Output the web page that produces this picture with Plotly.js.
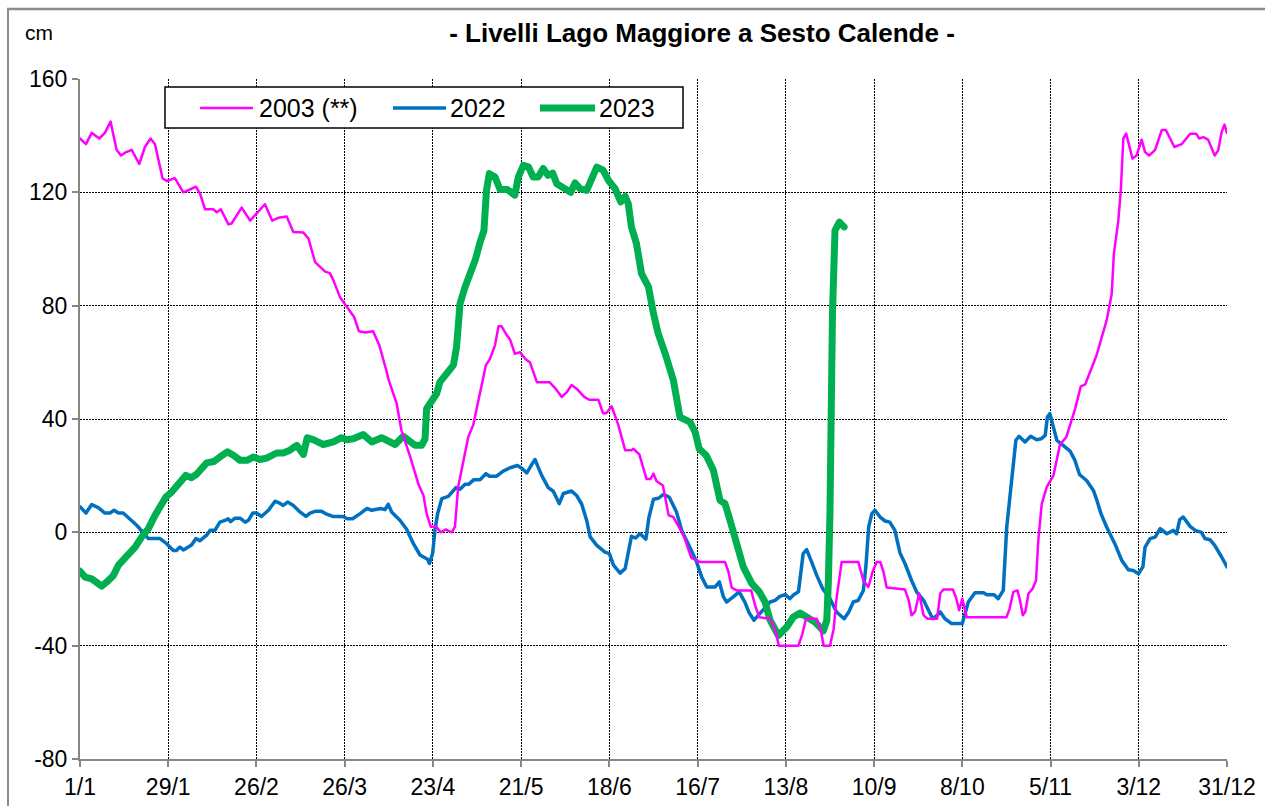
<!DOCTYPE html>
<html>
<head>
<meta charset="utf-8">
<script src="https://cdn.plot.ly/plotly-3.0.1.min.js"></script>
<style>
html,body{margin:0;padding:0;background:#fff;}
#chart{width:1265px;height:806px;}
.scatterlayer path.js-line{stroke-linejoin:round;stroke-linecap:round;}
</style>
</head>
<body>
<div id="chart"></div>
<script>
// ---- x axis tick positions (day of year, 1/1 = 0) and labels ----
const tickDays = [0, 28, 56, 84, 112, 140, 168, 196, 224, 252, 280, 308, 336, 364];
const tickLabels = ["1/1", "29/1", "26/2", "26/3", "23/4", "21/5", "18/6", "16/7", "13/8", "10/9", "8/10", "5/11", "3/12", "31/12"];
const yTicks = [-80, -40, 0, 40, 80, 120, 160];

// ---- 2003 (**) ----
const days2003 = [0,1.9,3.7,6.1,7.9,9.7,11.6,13,14.3,16.4,18.8,20.6,22.4,23.8,26.2,27.5,30.1,32.8,34.9,36.8,38.1,39.7,42.3,43.4,44.7,47.1,48.1,51.3,54,56,58.7,61,62.9,65.6,67.7,70.9,72.5,74.6,77.8,79.3,80.4,82.5,84.5,87,88.5,90.5,93,95,97,98,100.5,102,104.7,107.4,109,110,111.3,113,114.5,116,118,119,120,121.7,123.2,124.8,127,128.8,130,131.7,132.8,133.8,135.2,136.5,138,139.6,141.5,142.8,145,149,150.7,152.9,154.5,156,157.6,160,161.6,164.5,166,167,168.7,170.8,173,175,175.6,177.5,179.8,181,182,183,185,186.8,188.3,191.5,194,196.8,204.7,205.8,206.8,208.4,213,214.3,215.6,219,220.5,221.8,228,229.2,230.4,233.8,235,236,238,239.2,240,241.7,247,248.6,250.2,251.5,252.8,254,255,256,261.8,263,263.9,265,266.3,267.7,269,272,273,274,277,278,279,280,281.4,294,295,296.2,297.5,298.3,299.2,300,301,302.3,303.4,304.1,305.2,306.8,308.9,310,311,313,315.8,317.6,319,322.6,325.8,327.4,328.1,329.5,330.3,331.1,332,334,335.3,336.9,338,339.3,341.2,343.3,344.6,347.3,348.5,349.6,352.3,354.2,355.2,356.5,358,360.1,361.2,362.3,363.2,364];
const lev2003 = [139,137,141,139,141,145,135,133,134,135,130,136,139,137,125,124,125,120,121,122,119.5,114,114,113,114,108.7,109,114.6,110,112.5,115.8,110,111,111.5,106,105.8,103.7,95.4,92,91.5,89,83,80,76,71,70.5,71,66,58,53.6,45.4,36,27,17,13,6.6,2,2,0,1,0,2,16,25,33.6,38,49,59,61,66,72.7,72.7,70,68,63,63.6,61,60,53,53,51,47.8,49.5,52,50.7,47.8,46.8,46.8,42,42,44.5,38,29,29,29.5,27.5,18.8,18.8,20.7,18,16.5,6,5.4,-1,-9,-10.5,-10.5,-14,-19.5,-20.5,-20.5,-26,-30,-30.5,-34,-40,-40,-36,-30.5,-30.5,-34,-40,-40,-34,-24,-10.5,-10.5,-17,-19.3,-14,-10.5,-10.5,-14,-19.5,-20.2,-24,-29.3,-28,-21.6,-29.3,-30.5,-30.5,-21.6,-20.2,-20.2,-23,-27.5,-23.4,-30,-30,-27,-21,-20.5,-24,-29.3,-28,-21.6,-19.9,-17,-3,10,16,20,25.4,31,33.6,43.6,51.5,52.2,62.5,74.8,84,98.3,110,120.7,139,140.7,131.9,133,138.6,134.2,133,135,142,142,136,136.5,137,140.7,140.7,139,139.5,138.6,133,134.8,141.3,143.9,141];

// ---- 2022 ----
const days2022 = [0,1.9,3.7,5.8,7.9,9.5,10.8,12.2,13.7,18,21.7,25.4,27.5,29.6,30.6,31.7,32.8,34.4,35.4,36.8,38,40.2,41.3,42.8,44.4,46,47,47.8,49.2,50.8,52.4,53.5,54.8,56,57.6,59.8,61.9,63.5,64.5,65.9,67.7,69.8,71.7,73,74.6,76.7,78.3,80.2,83.5,84.8,86.5,88.9,91,92.6,95.4,96.8,97.8,98.9,101.6,103.7,105.8,107.9,109.5,110.3,110.9,111.9,112.7,113.5,114.8,116.9,119.3,120.6,122.2,123.4,125,127,128.8,130,132.2,134.3,136.5,138.8,140.3,141.8,143.4,144.4,145.4,146.5,148.6,150.2,152.1,153.4,156,157.6,159.2,160.8,161.9,164,166.6,168,169.3,171.4,173,175,176.3,177.7,179.6,180.5,182,183.5,185.2,187,189.3,191,193.5,195.7,197.3,198.9,201.5,202.9,204.2,205.2,207.3,209.2,211,212.4,213.9,215.5,216.9,219,220.6,222.1,223.8,225.3,226.5,228,229.5,230.6,232.2,233.8,235.7,238,240.1,242.5,244,245.4,247,248.6,249.4,250.3,251.3,252.3,253.9,255.5,257,258.6,260.2,261.8,263.9,265.5,267.7,269.2,270.6,271.8,273,274.5,276.6,280,280.8,281.9,284,286.7,287.8,290,291.4,293,294.1,295.7,297,298,299.9,301.7,303.6,305,306.3,307,307.8,308.7,310,312,314.2,315.7,317.2,319.5,321.6,322.8,324,325.8,328.4,330.6,332.7,334.3,335.9,337.3,338,339.6,341.2,342.8,344.9,347,348,349,350.1,352.3,353.9,355.9,357,358.6,360.1,362.3,364];
const lev2022 = [9,6.8,9.8,8.7,6.8,6.8,7.8,6.8,6.8,2.5,-2.2,-2.2,-4,-6.4,-6.4,-5.2,-6.2,-5,-4.5,-2.2,-3,-1,0.7,0.7,3.6,4.2,4.8,3.8,5,5,3.6,4.3,6.8,6.8,5.6,7.8,11,10.2,9.5,10.7,9.5,7.2,5.6,6.8,7.4,7.4,6.4,5.6,5.6,4.8,4.8,6.6,8.4,7.8,8.4,8,9.9,7.2,4.2,1,-4,-8,-9,-9.5,-11,-7.5,1.3,6.6,11.9,12.7,15.8,15.2,17,17,18.6,18.6,20.7,19.8,19.8,21.6,22.8,23.6,22.5,21,24,25.7,23,20.1,15.8,14.5,10.1,13.7,14.6,13,10,4.2,-1.6,-4.6,-7,-7.5,-11.6,-14.4,-12.8,-1.4,-2,-0.5,-2.4,5,11.7,12,13.4,12.4,7.2,0.5,-5.2,-10.5,-15.8,-19.3,-19.3,-17.5,-22.8,-24.6,-22.8,-21,-24.6,-28.5,-31,-29,-27.3,-24.6,-24,-22.6,-22,-23.4,-22,-21,-7.5,-6.1,-10.5,-15.2,-19.9,-23.4,-28.1,-30.5,-28,-24.6,-24,-20.5,-12,2,6.6,7.8,5.4,4,3.6,0.7,-7.2,-11,-17,-21,-24,-27.5,-30.5,-29.5,-28.1,-30.5,-32.2,-32.2,-28.7,-24.6,-21.3,-21.3,-22,-22,-23.4,-20.5,1.9,18.4,32.5,33.9,31.9,33.9,32.7,33,34.2,40.7,41.9,38,32.5,30.7,28.7,25.5,20.4,18.2,14.8,11,6.6,1.9,-4,-9.9,-13.2,-13.5,-14.6,-12.2,-5.2,-2.2,-1.7,1.3,-0.5,0.7,-0.5,4.5,5.4,2.1,0.7,0,-2.2,-2.6,-4.6,-8.7,-12.2];

// ---- 2023 ----
const days2023 = [0,1.6,3.7,5.3,6.9,8.5,10.6,12.2,14.8,17.5,19.6,21.7,23.8,25.9,27.3,29.1,31.2,33.6,35.4,37,40.2,42.5,44.4,46.8,48.7,50.8,53,55,57.1,59.2,62.4,64.5,66.6,68.8,70.9,72.1,74,77.2,80.4,83,84.8,86.7,89.9,92.6,95.7,98.4,100,102.6,104.8,106.3,108.4,109.5,110,111.6,113.2,114.2,116.4,118.5,119.5,120.6,122.2,123.8,125.4,127,128.2,129,129.9,131.7,133.3,135.6,138,139.1,140.7,142.3,143.8,145.4,147,148.5,150,151.3,153.4,155.7,157.1,158.7,160.8,162.4,164,166,167.7,169.8,171.6,173,174,175,176.6,178.2,180.4,182,183.5,185.7,188.3,190.4,192,193.6,195.2,196.5,198.7,201,203.1,204.7,206.3,207.9,210.5,213.2,215.6,217.4,219,221.6,224.3,226.4,228.5,230.6,233.3,235.9,237,237.5,238,238.8,239.6,241,242.5];
const lev2023 = [-13.7,-15.8,-16.4,-17.5,-19,-17.5,-15.2,-11.6,-8.7,-5.2,-1.6,1.3,6,10.7,12.5,14.2,17.4,20.1,19.3,20.5,24.5,25,26.6,28.4,27.2,25.4,25.4,26.6,25.7,26.2,28,28,29,30.7,27.5,33.4,32.7,31,31.9,33.4,32.7,33,34.5,31.9,33.4,32.2,31,33.9,32.2,30.7,30.7,33,43.6,46,49,53,56,59,65.4,80.7,86.6,91.3,96,102.5,106.6,120.7,126.6,125.4,121,121,119,125.4,129.5,129,125.4,125.4,128.4,126,126.8,123,121.3,120,123.3,121.3,120.7,125.4,128.9,127.8,124.2,121.3,116.6,118.6,116,107.8,101.9,91.3,86.6,77.2,70.1,63.1,53.7,40.7,39.5,38.9,35.4,29.5,27.2,21.9,11.3,10.1,4.2,-2.8,-12.2,-18.1,-21,-24.6,-31,-36.4,-33.4,-29.9,-28.5,-29.9,-31.7,-34.8,-31,-17,6.6,77.2,106.6,109.5,107.8];

const seriesNames = ["2003 (**)", "2022", "2023"];
const colors = {"2003 (**)": "#FF00FF", "2022": "#0070C0", "2023": "#00B050"};
const widths = {"2003 (**)": 2.5, "2022": 3.5, "2023": 7};

const traces = [
  {x: days2022, y: lev2022, name: seriesNames[1]},
  {x: days2023, y: lev2023, name: seriesNames[2]},
  {x: days2003, y: lev2003, name: seriesNames[0]}
].map(t => ({
  x: t.x, y: t.y, name: t.name, type: "scatter", mode: "lines",
  line: {color: colors[t.name], width: widths[t.name]},
  showlegend: false, hoverinfo: "skip"
}));

// pixel helpers for paper coordinates (plot area: x 80..1227, y 79..759)
const px = v => (v - 80) / 1147;
const py = v => (759 - v) / 680;

const legendY = py(108);
const legendItems = [
  {name: seriesNames[0], x0: 200, x1: 253, tx: 257},
  {name: seriesNames[1], x0: 393, x1: 446, tx: 448},
  {name: seriesNames[2], x0: 540, x1: 595, tx: 597}
];

const shapes = [
  // outer chart frame (top and left edges visible)
  {type: "line", xref: "paper", yref: "paper", x0: px(7), x1: px(1265), y0: py(9), y1: py(9),
   line: {color: "#8c8c8c", width: 2.5}, layer: "above"},
  {type: "line", xref: "paper", yref: "paper", x0: px(8), x1: px(8), y0: py(8), y1: py(806),
   line: {color: "#8c8c8c", width: 2}, layer: "above"},
  // legend box
  {type: "rect", xref: "paper", yref: "paper", x0: px(165), x1: px(683), y0: py(128), y1: py(87),
   line: {color: "#000", width: 1.5}, fillcolor: "#fff", layer: "above"}
];
legendItems.forEach(it => shapes.push({
  type: "line", xref: "paper", yref: "paper", x0: px(it.x0), x1: px(it.x1), y0: legendY, y1: legendY,
  line: {color: colors[it.name], width: widths[it.name]}, layer: "above"
}));

const annotations = [
  {text: "cm", xref: "paper", yref: "paper", x: px(39), y: py(32), xanchor: "center", yanchor: "middle",
   showarrow: false, font: {size: 21, color: "#000"}}
];
legendItems.forEach(it => annotations.push({
  text: it.name, xref: "paper", yref: "paper", x: px(it.tx), y: legendY, xanchor: "left", yanchor: "middle",
  showarrow: false, font: {size: 25, color: "#000"}
}));

const axisCommon = {
  showgrid: true, gridcolor: "#000", gridwidth: 1, griddash: "2px,1px",
  showline: true, linecolor: "#868686", linewidth: 2,
  ticks: "outside", ticklen: 6, tickwidth: 2, tickcolor: "#868686",
  zeroline: false, fixedrange: true, tickfont: {size: 23, color: "#000"}
};

const layout = {
  width: 1265, height: 806,
  margin: {l: 80, r: 38, t: 79, b: 47, pad: 0},
  paper_bgcolor: "#fff", plot_bgcolor: "#fff",
  font: {family: "Liberation Sans, Arial, sans-serif", color: "#000"},
  title: {text: "<b>- Livelli Lago Maggiore a Sesto Calende -</b>", font: {size: 26, color: "#000"},
          xref: "paper", x: px(702), xanchor: "center", yref: "container", y: 1 - 33 / 806, yanchor: "middle"},
  xaxis: Object.assign({}, axisCommon, {range: [0, 364], tickmode: "array", tickvals: tickDays, ticktext: tickLabels}),
  yaxis: Object.assign({}, axisCommon, {range: [-80, 160], tickmode: "array", tickvals: yTicks, ticktext: yTicks.map(String)}),
  shapes: shapes,
  annotations: annotations,
  showlegend: false
};

Plotly.newPlot("chart", traces, layout, {displayModeBar: false, staticPlot: true});
</script>
</body>
</html>
